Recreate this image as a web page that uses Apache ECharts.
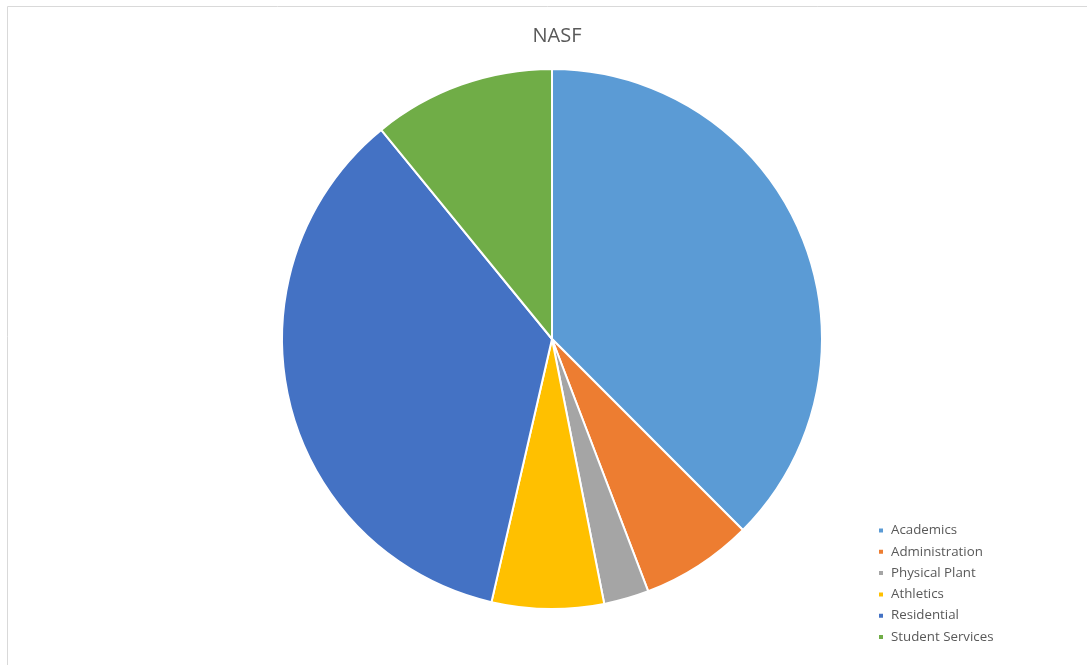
<!DOCTYPE html>
<html><head><meta charset="utf-8">
<script src="https://cdn.jsdelivr.net/npm/echarts@6/dist/echarts.min.js"></script>
<style>html,body{margin:0;padding:0;background:#fff}#c{width:1087px;height:665px}</style>
</head><body><div id="c"></div>
<script>
const categories = ['Academics','Administration','Physical Plant','Athletics','Residential','Student Services'];
const values = [37.5, 6.7, 2.7, 6.7, 35.5, 10.9];
const colors = ['#5B9BD5','#ED7D31','#A5A5A5','#FFC000','#4472C4','#70AD47'];
const chart = echarts.init(document.getElementById('c'));
chart.setOption({
  animation:false,
  title:{text:'NASF',left:552,top:21,textAlign:'center',textStyle:{fontFamily:'Open Sans, Liberation Sans',fontSize:20,fontWeight:'normal',color:'#595959'}},
  graphic:[{type:'rect',shape:{x:7.5,y:6.5,width:1200,height:800},style:{fill:null,stroke:'#d9d9d9',lineWidth:1},silent:true}],
  legend:{orient:'vertical',left:872,top:519,itemWidth:6,itemHeight:6,itemGap:8.3,icon:'rect',
    textStyle:{fontFamily:'Open Sans, Liberation Sans',fontSize:13.3,color:'#595959',padding:[0,0,0,2]}},
  series:[{type:'pie',center:[552,339],radius:[0,270],startAngle:90,clockwise:true,
    label:{show:false},labelLine:{show:false},
    itemStyle:{borderColor:'#fff',borderWidth:2},
    data:categories.map((n,i)=>({name:n,value:values[i],itemStyle:{color:colors[i]}}))}]
});
</script></body></html>
